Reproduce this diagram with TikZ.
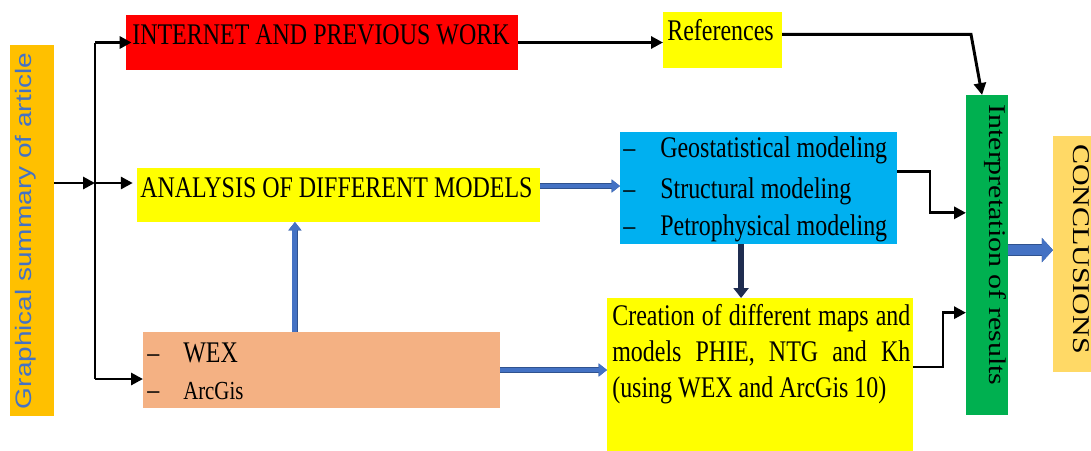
\documentclass[tikz,border=0pt]{standalone}
\usepackage{graphicx}
\usepackage{fontspec}
\setmainfont[FakeStretch=0.8]{Liberation Serif}
\newfontfamily\uprightfont{Liberation Serif}
\newfontfamily\summaryfont{Liberation Sans}
\usetikzlibrary{arrows.meta,positioning,calc,fit}

\definecolor{boxred}{RGB}{255,0,0}
\definecolor{boxyellow}{RGB}{255,255,0}
\definecolor{boxorange}{RGB}{255,192,0}
\definecolor{boxcyan}{RGB}{0,176,240}
\definecolor{boxpeach}{RGB}{244,177,131}
\definecolor{boxgreen}{RGB}{0,176,80}
\definecolor{boxgold}{RGB}{255,217,102}
\definecolor{arrowblue}{RGB}{68,114,196}
\definecolor{arrownavy}{RGB}{31,45,80}
\definecolor{outlineblue}{RGB}{47,82,143}

\begin{document}
\begin{tikzpicture}[x=0.025cm,y=-0.025cm,
    panel/.style={inner sep=0pt,outer sep=0pt},
    txt/.style={inner sep=0pt,font=\fontsize{21.3}{25}\selectfont},
    turned/.style={inner sep=0pt,font=\uprightfont\fontsize{21.3}{25}\selectfont},
    link/.style={line width=2.1pt},
    arrow/.style={link,-{Triangle[length=8.5pt,width=8.5pt]}},
    flow/.style={line width=3.5pt,draw=arrowblue,preaction={draw=outlineblue,line width=4.5pt},-{Triangle[length=6pt,width=9pt]}},
    navyflow/.style={line width=4.5pt,draw=arrownavy,-{Triangle[length=7pt,width=10.5pt]}},
    bigflow/.style={line width=7pt,draw=arrowblue,preaction={draw=outlineblue,line width=8pt},-{Triangle[length=8pt,width=17pt]}}]
    \useasboundingbox (0,0) rectangle (1091,450);
    % boxes
    \node[panel,fill=boxorange,fit={(10,45) (54,416)}] (summary) {};
    \node[inner sep=0pt,rotate=90,text=arrowblue,font=\summaryfont\fontsize{19.9}{24}\selectfont] (summarytext) at (26,231) {\scalebox{1}[0.8]{Graphical summary of article}};
    \node[panel,fill=boxred,fit={(126,15) (518,70)}] (web) {};
    \node[txt,anchor=base west] (webtext) at (132,44) {INTERNET AND PREVIOUS WORK};
    \node[panel,fill=boxyellow,fit={(663,12) (782,68)}] (ref) {};
    \node[txt,anchor=base west] (reftext) at (667,40) {References};
    \node[panel,fill=boxyellow,fit={(137,168) (540,222)}] (analysis) {};
    \node[txt,anchor=base west] (analysistext) at (140,197) {ANALYSIS OF DIFFERENT MODELS};
    \node[panel,fill=boxcyan,fit={(620,132) (897,244)}] (models) {};
    \foreach \name/\y [count=\i] in {Geostatistical modeling/157,Structural modeling/198,Petrophysical modeling/235} {
        \node[txt,anchor=base west] (dash\i) at (623,\y) {–};
        \node[txt,anchor=base west] (model\i) at (660,\y) {\name};
    }
    \node[panel,fill=boxpeach,fit={(143,332) (500,408)}] (wex) {};
    \node[txt,anchor=base west] (dashwex) at (147,362) {–};
    \node[txt,anchor=base west] (wextext) at (183,362) {WEX};
    \node[txt,anchor=base west] (dasharc) at (147,399) {–};
    \node[txt,anchor=base west,font=\fontsize{18.5}{22}\selectfont] (arctext) at (183,399) {ArcGis};
    \node[panel,fill=boxyellow,fit={(607,298) (913,452)}] (creation) {};
    \node[txt,anchor=north west,text width=7.45cm,align=justify,font=\fontsize{21.3}{25.6}\selectfont] (creationtext) at (612,304)
        {Creation of different maps and\linebreak models PHIE, NTG and Kh\linebreak (using WEX and ArcGis 10)};
    \node[panel,fill=boxgreen,fit={(966,95) (1008,415)}] (interp) {};
    \node[turned,rotate=-90] (interptext) at (995,245) {\scalebox{1}[0.8]{Interpretation of results}};
    \node[panel,fill=boxgold,fit={(1053,136) (1095,372)}] (concl) {};
    \node[turned,rotate=-90] (concltext) at (1081,249) {\scalebox{1}[0.8]{CONCLUSIONS}};
    % black connectors
    \coordinate (hub) at (95,183);
    \coordinate (hubtop) at (hub |- web.west);
    \coordinate (hubbot) at (95,379);
    \draw[arrow] (summary.east |- hub) -- (hub);
    \draw[link] (hubtop) -- (hubbot);
    \draw[arrow] (hubtop) -- ([xshift=4pt]web.west);
    \draw[arrow] (hub) -- ([xshift=-3pt]analysis.west |- hub);
    \draw[arrow] (hubbot) -- (wex.west |- hubbot);
    \draw[arrow] (web.east) -- (web.east -| ref.west);
    \draw[arrow] ([yshift=4pt]ref.east) -- ++(189,0) -- ([xshift=-3.5pt]interp.north);
    \draw[arrow] ([yshift=12pt]models.east) -- ++(33,0) |- ([yshift=30pt]interp.west);
    \draw[arrow] ([yshift=5.7pt]creation.east) -- ++(30,0) |- ([yshift=-41pt]interp.west);
    % blue connectors
    \draw[flow] ([yshift=6.4pt]analysis.east) -- ([yshift=6.4pt]analysis.east -| models.west);
    \draw[navyflow] ([xshift=-12.4pt]models.south) -- ([xshift=-12.4pt]models.south |- creation.north);
    \draw[flow] ([xshift=-18.9pt]wex.north) -- ([xshift=-18.9pt]wex.north |- analysis.south);
    \draw[flow] (wex.east) -- (wex.east -| creation.west);
    \draw[bigflow] ([yshift=3.5pt]interp.east) -- ([yshift=3.5pt]interp.east -| concl.west);
\end{tikzpicture}
\end{document}
